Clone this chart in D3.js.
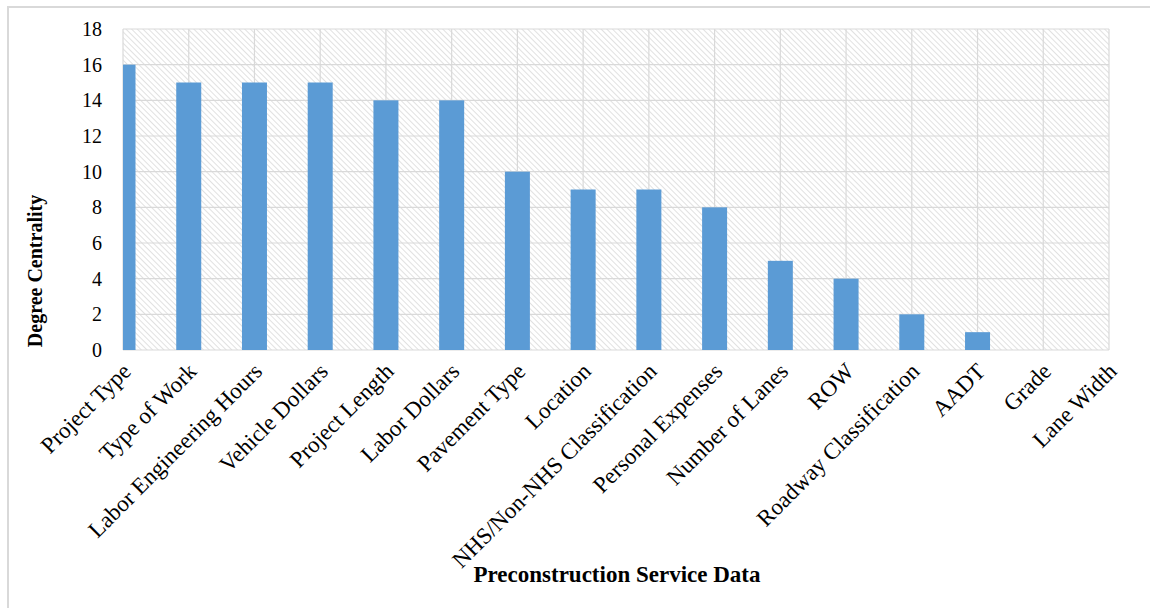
<!DOCTYPE html>
<html>
<head>
<meta charset="utf-8">
<script src="https://cdn.jsdelivr.net/npm/d3@7"></script>
<style>
  body { margin: 0; background: #fff; }
  svg text { font-family: "Liberation Serif", "Times New Roman", serif; fill: #000; }
</style>
</head>
<body>
<div id="chart"></div>
<script>
// Categories on the x axis
var categories = ["Project Type", "Type of Work", "Labor Engineering Hours", "Vehicle Dollars",
    "Project Length", "Labor Dollars", "Pavement Type", "Location", "NHS/Non-NHS Classification",
    "Personal Expenses", "Number of Lanes", "ROW", "Roadway Classification", "AADT", "Grade", "Lane Width"];
// Degree centrality per category
var values = [16, 15, 15, 15, 14, 14, 10, 9, 9, 8, 5, 4, 2, 1, 0, 0];
// y ticks
var yTicks = [0, 2, 4, 6, 8, 10, 12, 14, 16, 18];

var width = 1150, height = 608;
var plotLeft = 123, plotRight = 1109, plotTop = 29, plotBottom = 350;
var barWidth = 25;

var svg = d3.select("#chart").append("svg")
    .attr("width", width)
    .attr("height", height);

// outer frame (only top and left visible)
svg.append("line").attr("x1", 7).attr("x2", width).attr("y1", 7).attr("y2", 7)
    .attr("stroke", "#d9d9d9").attr("stroke-width", 2);
svg.append("line").attr("x1", 8).attr("x2", 8).attr("y1", 6).attr("y2", height)
    .attr("stroke", "#d9d9d9").attr("stroke-width", 2);

// hatch pattern
var defs = svg.append("defs");
var pat = defs.append("pattern")
    .attr("id", "hatch")
    .attr("patternUnits", "userSpaceOnUse")
    .attr("width", 4).attr("height", 4)
    .attr("patternTransform", "rotate(-45)");
pat.append("rect").attr("width", 4).attr("height", 4).attr("fill", "#fff");
pat.append("line").attr("x1", 0).attr("y1", 0).attr("x2", 0).attr("y2", 4)
    .attr("stroke", "#dadada").attr("stroke-width", 1.6);

defs.append("clipPath").attr("id", "plotclip")
    .append("rect").attr("x", plotLeft).attr("y", plotTop)
    .attr("width", plotRight - plotLeft).attr("height", plotBottom - plotTop);

var xScale = d3.scalePoint()
    .domain(categories)
    .range([plotLeft, plotRight]);

var yScale = d3.scaleLinear()
    .domain([0, 18])
    .range([plotBottom, plotTop]);

// plot background
svg.append("rect")
    .attr("x", plotLeft).attr("y", plotTop)
    .attr("width", plotRight - plotLeft).attr("height", plotBottom - plotTop)
    .attr("fill", "url(#hatch)");

// horizontal gridlines
svg.append("g").selectAll("line")
    .data(yTicks)
    .enter().append("line")
    .attr("x1", plotLeft).attr("x2", plotRight)
    .attr("y1", function (d) { return yScale(d); })
    .attr("y2", function (d) { return yScale(d); })
    .attr("stroke", "#d9d9d9").attr("stroke-width", 1.2);

// vertical gridlines at category positions
svg.append("g").selectAll("line")
    .data(categories)
    .enter().append("line")
    .attr("x1", function (d) { return xScale(d); })
    .attr("x2", function (d) { return xScale(d); })
    .attr("y1", plotTop).attr("y2", plotBottom)
    .attr("stroke", "#d9d9d9").attr("stroke-width", 1.2);

// bars
svg.append("g").attr("clip-path", "url(#plotclip)")
    .selectAll("rect")
    .data(values)
    .enter().append("rect")
    .attr("x", function (d, i) { return xScale(categories[i]) - barWidth / 2; })
    .attr("y", function (d) { return yScale(d); })
    .attr("width", barWidth)
    .attr("height", function (d) { return plotBottom - yScale(d); })
    .attr("fill", "#5b9bd5");

// y axis
var yAxis = d3.axisLeft(yScale).tickValues(yTicks).tickSize(0).tickPadding(21);
var yg = svg.append("g")
    .attr("transform", "translate(" + plotLeft + ",0)")
    .call(yAxis);
yg.select(".domain").remove();
yg.selectAll("text")
    .style("font-size", "20px")
    .style("font-family", "Liberation Serif");

// x axis
var xAxis = d3.axisBottom(xScale).tickSize(0);
var xg = svg.append("g")
    .attr("transform", "translate(0," + plotBottom + ")")
    .call(xAxis);
xg.select(".domain").remove();
xg.selectAll("text")
    .style("font-size", "23px")
    .style("font-family", "Liberation Serif")
    .attr("text-anchor", "end")
    .attr("dy", "0.35em")
    .attr("y", 0)
    .attr("transform", "translate(3,17) rotate(-45)");

// axis titles
svg.append("text")
    .attr("x", 617).attr("y", 582)
    .attr("text-anchor", "middle")
    .style("font-size", "23px")
    .style("font-weight", "bold")
    .text("Preconstruction Service Data");

svg.append("text")
    .attr("transform", "translate(42,271) rotate(-90)")
    .attr("text-anchor", "middle")
    .style("font-size", "20px")
    .style("font-weight", "bold")
    .text("Degree Centrality");
</script>
</body>
</html>
